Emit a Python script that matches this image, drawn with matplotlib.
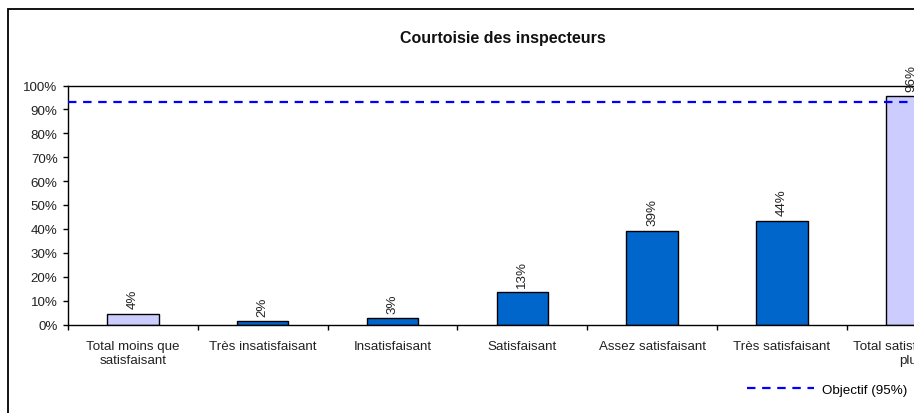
import matplotlib
matplotlib.use("Agg")
import matplotlib.pyplot as plt
from matplotlib.patches import Rectangle
from matplotlib.ticker import FuncFormatter, FixedLocator

plt.rcParams['font.family'] = ['Liberation Sans', 'DejaVu Sans']

categories = ["Total moins que\nsatisfaisant", "Très insatisfaisant", "Insatisfaisant",
              "Satisfaisant", "Assez satisfaisant", "Très satisfaisant",
              "Total satisfaisant ou\nplus"]
values = [0.045, 0.014, 0.026, 0.135, 0.391, 0.435, 0.955]
value_labels = ["4%", "2%", "3%", "13%", "39%", "44%", "96%"]
bar_colors = ["#CCCCFF", "#0066CC", "#0066CC", "#0066CC", "#0066CC", "#0066CC", "#CCCCFF"]
objective_value = 0.933
objective_label = "Objectif (95%)"
title = "Courtoisie des inspecteurs"

W, H = 914, 414
fig = plt.figure(figsize=(W / 100, H / 100), dpi=100)

# outer chart frame (extends beyond the visible area on right and bottom)
frame = Rectangle((8 / W, -0.2), 1.2, 1.2 - 10 / H, transform=fig.transFigure,
                  fill=False, edgecolor="black", linewidth=1.3, clip_on=False)
fig.patches.append(frame)

ax_left, ax_right = 68, 68 + 7 * 129.8
ax_top, ax_bottom = 86.5, 325.5
ax = fig.add_axes([ax_left / W, 1 - ax_bottom / H, (ax_right - ax_left) / W, (ax_bottom - ax_top) / H])

x = list(range(len(categories)))
ax.bar(x, values, width=0.395, color=bar_colors, edgecolor="black", linewidth=1.0, zorder=2)

for xi, v, lab in zip(x, values, value_labels):
    ax.annotate(lab, (xi, v), xytext=(0, 4), textcoords="offset points",
                rotation=90, ha="center", va="bottom", fontsize=9.6, color="#222222",
                annotation_clip=False)

line, = ax.plot([-0.5, len(categories) - 0.5], [objective_value, objective_value],
                color="#0000FF", linewidth=1.6, dashes=(3.8, 3.0), zorder=3,
                label=objective_label)

ax.set_xlim(-0.5, len(categories) - 0.5)
ax.set_ylim(0, 1.0)
ax.yaxis.set_major_locator(FixedLocator([i / 10 for i in range(11)]))
ax.yaxis.set_major_formatter(FuncFormatter(lambda v, p: f"{v * 100:.0f}%"))

ax.set_xticks(x)
ax.set_xticklabels(categories, fontsize=9.6, color="#222222")
ax.set_xticks([i - 0.5 for i in range(len(categories) + 1)], minor=True)
ax.tick_params(axis="x", which="major", length=0, pad=11.5)
ax.tick_params(axis="x", which="minor", length=3.5, width=1, direction="out")
ax.tick_params(axis="y", length=3.5, width=1, direction="out", pad=4, labelsize=9.6,
               labelcolor="#222222")

for s in ["left", "bottom", "top"]:
    ax.spines[s].set_linewidth(1.0)
    ax.spines[s].set_color("black")
ax.spines["right"].set_visible(False)

fig.text(503 / W, 1 - 39 / H, title, ha="center", va="center", fontsize=11.5,
         fontweight="bold", color="#111111")

fig.legend(handles=[line], loc="center left", bbox_to_anchor=(747 / W, 1 - 391 / H),
           frameon=False, fontsize=9.6, handlelength=5.0, handletextpad=0.65,
           borderaxespad=0, borderpad=0)

fig.savefig("out.png", dpi=100)
